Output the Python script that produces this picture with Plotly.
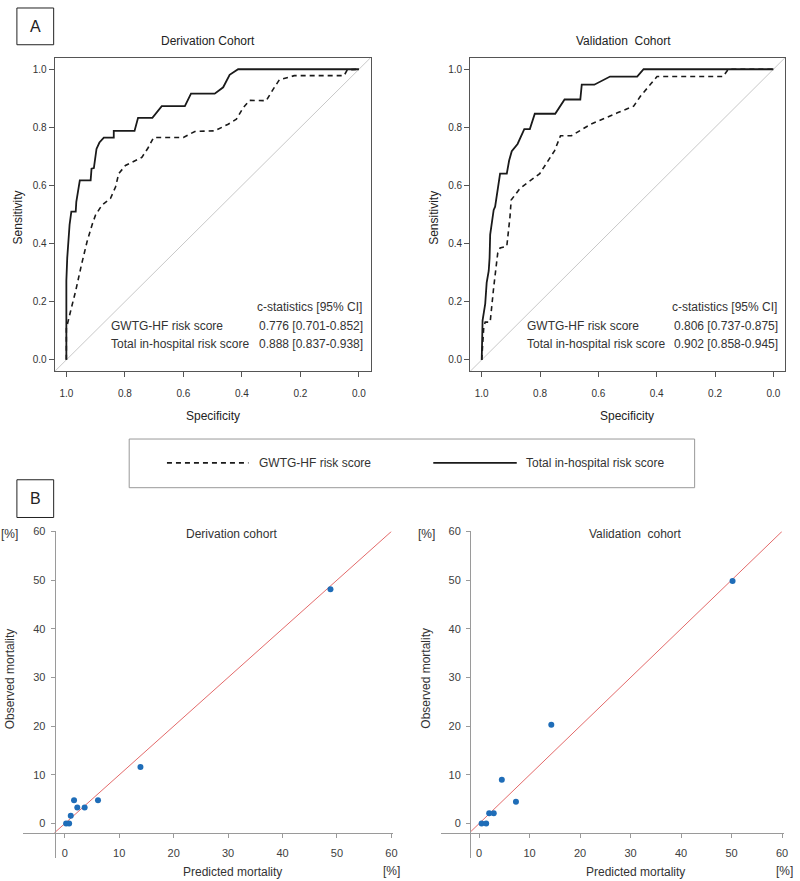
import plotly.graph_objects as go

# ROC curves (specificity, sensitivity)
deriv_total_spec = [1.000, 1.000, 0.997, 0.994, 0.989, 0.983, 0.968, 0.966, 0.961, 0.954, 0.917, 0.914, 0.906,
                    0.900, 0.897, 0.887, 0.872, 0.838, 0.838, 0.767, 0.755, 0.706, 0.674, 0.595, 0.574, 0.493,
                    0.464, 0.442, 0.413, 0.000]
deriv_total_sens = [0.000, 0.272, 0.351, 0.402, 0.465, 0.510, 0.510, 0.544, 0.573, 0.618, 0.618, 0.658, 0.660,
                    0.697, 0.726, 0.748, 0.765, 0.765, 0.788, 0.788, 0.833, 0.833, 0.873, 0.873, 0.916, 0.916,
                    0.938, 0.981, 1.000, 1.000]
deriv_gwtg_spec = [1.000, 1.000, 0.985, 0.968, 0.948, 0.929, 0.912, 0.900, 0.878, 0.849, 0.832, 0.821, 0.798,
                   0.764, 0.742, 0.721, 0.702, 0.600, 0.561, 0.493, 0.447, 0.419, 0.396, 0.374, 0.317, 0.294,
                   0.272, 0.221, 0.051, 0.040, 0.000]
deriv_gwtg_sens = [0.000, 0.108, 0.170, 0.238, 0.329, 0.408, 0.465, 0.499, 0.533, 0.556, 0.595, 0.641, 0.669,
                   0.686, 0.697, 0.729, 0.765, 0.765, 0.786, 0.788, 0.811, 0.828, 0.867, 0.893, 0.892, 0.930,
                   0.964, 0.978, 0.978, 0.998, 1.000]

valid_total_spec = [1.000, 0.997, 0.988, 0.983, 0.976, 0.973, 0.971, 0.964, 0.959, 0.954, 0.947, 0.937, 0.914,
                    0.906, 0.897, 0.877, 0.854, 0.835, 0.818, 0.748, 0.716, 0.662, 0.657, 0.614, 0.560, 0.467,
                    0.445, 0.000]
valid_total_sens = [0.000, 0.136, 0.193, 0.266, 0.306, 0.351, 0.431, 0.476, 0.516, 0.527, 0.573, 0.641, 0.641,
                    0.686, 0.718, 0.743, 0.794, 0.794, 0.847, 0.847, 0.896, 0.896, 0.947, 0.947, 0.975, 0.975,
                    1.000, 1.000]
valid_gwtg_spec = [1.000, 0.993, 0.988, 0.971, 0.959, 0.945, 0.937, 0.914, 0.903, 0.899, 0.869, 0.801, 0.750,
                   0.730, 0.693, 0.626, 0.535, 0.479, 0.456, 0.399, 0.172, 0.155, 0.000]
valid_gwtg_sens = [0.000, 0.113, 0.130, 0.130, 0.249, 0.368, 0.385, 0.391, 0.493, 0.550, 0.590, 0.641, 0.720,
                   0.771, 0.771, 0.811, 0.850, 0.873, 0.907, 0.975, 0.975, 1.000, 1.000]

roc_ticks = [1.0, 0.8, 0.6, 0.4, 0.2, 0.0]
roc_ticktext = ["1.0", "0.8", "0.6", "0.4", "0.2", "0.0"]

# calibration: predicted vs observed mortality [%]
deriv_pred = [0.25, 0.8, 1.1, 1.7, 2.3, 3.65, 6.1, 13.9, 48.8]
deriv_obs = [0.0, 0.0, 1.6, 4.8, 3.3, 3.3, 4.8, 11.6, 48.1]
valid_pred = [0.5, 1.4, 2.0, 2.9, 4.5, 7.3, 14.3, 50.2]
valid_obs = [0.0, 0.0, 2.1, 2.1, 9.0, 4.5, 20.3, 49.8]
cal_ticks = [0, 10, 20, 30, 40, 50, 60]

W, H = 800, 881


def px(x):
    return x / W


def py(y):
    return 1 - y / H


FONT = "Liberation Sans, Arial, sans-serif"
roc_range_x = [1.04, -0.04]
roc_range_y = [-0.04, 1.04]

fig = go.Figure()

# ROC panels
for i, (ts, tn, gs, gn) in enumerate([(deriv_total_spec, deriv_total_sens, deriv_gwtg_spec, deriv_gwtg_sens),
                                        (valid_total_spec, valid_total_sens, valid_gwtg_spec, valid_gwtg_sens)]):
    xa = "x" if i == 0 else "x2"
    ya = "y" if i == 0 else "y2"
    fig.add_trace(go.Scatter(x=roc_range_x, y=[1 - v for v in roc_range_x], mode="lines",
                             line=dict(color="#c8c8c8", width=1), xaxis=xa, yaxis=ya,
                             showlegend=False, hoverinfo="skip"))
    fig.add_trace(go.Scatter(x=gs, y=gn, mode="lines", line=dict(color="#1a1a1a", width=1.6, dash="5px,4px"),
                             xaxis=xa, yaxis=ya, showlegend=False))
    fig.add_trace(go.Scatter(x=ts, y=tn, mode="lines", line=dict(color="#1a1a1a", width=1.8),
                             xaxis=xa, yaxis=ya, showlegend=False))

# calibration panels
for i, (pr, ob) in enumerate([(deriv_pred, deriv_obs), (valid_pred, valid_obs)]):
    xa = "x3" if i == 0 else "x4"
    ya = "y3" if i == 0 else "y4"
    start = -1.9 if i == 0 else -1.8
    fig.add_trace(go.Scatter(x=[start, 60], y=[start, 60], mode="lines", line=dict(color="#e36a6a", width=1),
                             xaxis=xa, yaxis=ya, showlegend=False, hoverinfo="skip"))
    fig.add_trace(go.Scatter(x=pr, y=ob, mode="markers", marker=dict(color="#1f6db8", size=6),
                             xaxis=xa, yaxis=ya, showlegend=False))

roc_axis = dict(showline=True, mirror=True, linecolor="#555555", linewidth=1, ticks="outside", ticklen=5,
                tickcolor="#555555", showgrid=False, zeroline=False, tickvals=roc_ticks, ticktext=roc_ticktext,
                tickfont=dict(family=FONT, size=10, color="#333333"))
cal_axis = dict(showline=True, linecolor="#9a9a9a", linewidth=1, ticks="outside", ticklen=4,
                tickcolor="#9a9a9a", showgrid=False, zeroline=False, tickvals=cal_ticks,
                tickfont=dict(family=FONT, size=11, color="#404040"), anchor="free")

roc_ydom = [py(368), py(52)]
cal_ydom = [py(858), py(529)]

fig.update_layout(
    width=W, height=H, margin=dict(l=0, r=0, t=0, b=0),
    paper_bgcolor="white", plot_bgcolor="white", showlegend=False,
    xaxis=dict(roc_axis, domain=[px(55), px(373)], range=roc_range_x, anchor="y", ticklabelstandoff=8),
    yaxis=dict(roc_axis, domain=roc_ydom, range=roc_range_y, anchor="x"),
    xaxis2=dict(roc_axis, domain=[px(473), px(790)], range=roc_range_x, anchor="y2", ticklabelstandoff=8),
    yaxis2=dict(roc_axis, domain=roc_ydom, range=roc_range_y, anchor="x2"),
    xaxis3=dict(cal_axis, domain=[px(23), px(395)], range=[-7.7, 60.2], position=py(833), ticklabelstandoff=5),
    yaxis3=dict(cal_axis, domain=cal_ydom, range=[-7.1, 60], position=px(55), ticklabelstandoff=3),
    xaxis4=dict(cal_axis, domain=[px(444), px(789)], range=[-7.5, 60.4], position=py(833), ticklabelstandoff=5),
    yaxis4=dict(cal_axis, domain=cal_ydom, range=[-7.1, 60], position=px(473), ticklabelstandoff=3),
)

shapes = [
    # panel letter boxes
    dict(type="rect", xref="paper", yref="paper", x0=px(17), x1=px(54), y0=py(39), y1=py(2),
         line=dict(color="#222222", width=1)),
    dict(type="rect", xref="paper", yref="paper", x0=px(17), x1=px(54), y0=py(515), y1=py(477),
         line=dict(color="#222222", width=1)),
    # legend box and samples
    dict(type="rect", xref="paper", yref="paper", x0=px(130), x1=px(699), y0=py(485), y1=py(436),
         line=dict(color="#999999", width=1)),
    dict(type="line", xref="paper", yref="paper", x0=px(168), x1=px(250), y0=py(460), y1=py(460),
         line=dict(color="#1a1a1a", width=1.6, dash="5px,4px")),
    dict(type="line", xref="paper", yref="paper", x0=px(436), x1=px(520), y0=py(460), y1=py(460),
         line=dict(color="#1a1a1a", width=1.8)),
]
fig.update_layout(shapes=shapes)


def note(x, y, text, size=12, color="#222222", xanchor="center", angle=0):
    fig.add_annotation(xref="paper", yref="paper", x=px(x), y=py(y), text=text, showarrow=False,
                       xanchor=xanchor, yanchor="middle", textangle=angle,
                       font=dict(family=FONT, size=size, color=color))


note(35.5, 20.5, "A", size=16)
note(35.5, 496, "B", size=16)

# ROC texts
note(209, 35, "Derivation Cohort")
note(627, 35, "Validation  Cohort")
note(18, 213, "Sensitivity", angle=-90)
note(436, 213, "Sensitivity", angle=-90)
note(214, 413, "Specificity")
note(631, 413, "Specificity")
for ox in (0, 418):
    note(366 + ox, 303, "c-statistics [95% CI]", color="#333333", xanchor="right")
    note(110 + ox, 322, "GWTG-HF risk score", color="#333333", xanchor="left")
    note(110 + ox, 340, "Total in-hospital risk score", color="#333333", xanchor="left")
note(367, 322, "0.776 [0.701-0.852]", color="#333333", xanchor="right")
note(367, 340, "0.888 [0.837-0.938]", color="#333333", xanchor="right")
note(785, 322, "0.806 [0.737-0.875]", color="#333333", xanchor="right")
note(785, 340, "0.902 [0.858-0.945]", color="#333333", xanchor="right")

# legend labels
note(259, 460, "GWTG-HF risk score", color="#333333", xanchor="left")
note(527, 460, "Total in-hospital risk score", color="#333333", xanchor="left")

# calibration texts
note(233, 532, "Derivation cohort", color="#333333")
note(639, 532, "Validation  cohort", color="#333333")
note(10, 532, "[%]", color="#333333")
note(429, 532, "[%]", color="#333333")
note(10, 677, "Observed mortality", color="#333333", angle=-90)
note(429, 677, "Observed mortality", color="#333333", angle=-90)
note(234, 872, "Predicted mortality", color="#333333")
note(639, 872, "Predicted mortality", color="#333333")
note(394, 871, "[%]", color="#333333")
note(789, 871, "[%]", color="#333333")

# the page body has a default margin; drop it so the figure fills the window
fig.write_html("out.html", config={"displayModeBar": False},
               post_script="document.body.style.margin='0';")
